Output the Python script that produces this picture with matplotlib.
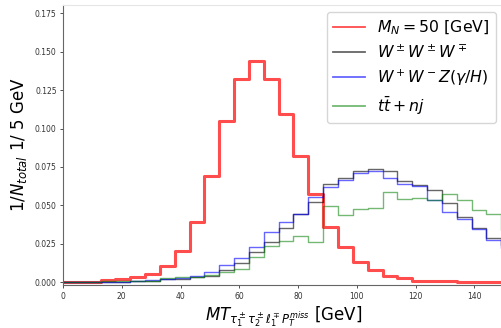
import numpy as np
import matplotlib
matplotlib.use('Agg')
import matplotlib.pyplot as plt

# bin layout (width ~5.05 GeV)
bin_start = -2.35
bin_width = 5.05
n_bins = 31
edges = bin_start + bin_width * np.arange(n_bins + 1)

# normalised bin heights, one value per bin
signal = [0.0002, 0.0002, 0.0002, 0.0013, 0.0024, 0.0035, 0.0052, 0.0108, 0.0206, 0.0390,
          0.0692, 0.1047, 0.1321, 0.1438, 0.1321, 0.1097, 0.0820, 0.0577, 0.0360, 0.0230,
          0.0132, 0.0078, 0.0041, 0.0028, 0.0011, 0.0007, 0.0007, 0.0004, 0.0004, 0.0004,
          0.0004]
www = [0.0, 0.0, 0.0, 0.0002, 0.0004, 0.0006, 0.0010, 0.0018, 0.0022, 0.0035,
       0.0041, 0.0078, 0.0125, 0.0195, 0.0263, 0.0351, 0.0442, 0.0520, 0.0642, 0.0675,
       0.0724, 0.0735, 0.0722, 0.0659, 0.0633, 0.0603, 0.0518, 0.0425, 0.0353, 0.0291,
       0.0240]
wwz = [0.0, 0.0, 0.0, 0.0002, 0.0003, 0.0005, 0.0013, 0.0020, 0.0030, 0.0039,
       0.0066, 0.0112, 0.0158, 0.0230, 0.0327, 0.0392, 0.0447, 0.0555, 0.0620, 0.0664,
       0.0714, 0.0724, 0.0675, 0.0636, 0.0625, 0.0534, 0.0457, 0.0414, 0.0345, 0.0273,
       0.0220]
ttbar = [0.0, 0.0, 0.0, 0.0008, 0.0008, 0.0008, 0.0009, 0.0028, 0.0033, 0.0035,
         0.0046, 0.0068, 0.0085, 0.0163, 0.0234, 0.0271, 0.0300, 0.0260, 0.0499, 0.0436,
         0.0475, 0.0486, 0.0584, 0.0542, 0.0547, 0.0534, 0.0577, 0.0538, 0.0468, 0.0442,
         0.0340]

labels = [r'$M_N = 50$ [GeV]', r'$W^\pm W^\pm W^\mp$', r'$W^+W^-Z(\gamma/H)$', r'$t\bar{t} + nj$']

fig = plt.figure(figsize=(5.02, 3.28), dpi=100)
ax = fig.add_axes([63 / 502, 42.7 / 328, 440.7 / 502, 280.3 / 328])


def draw(vals, **kw):
    ax.step(edges, np.append(vals, vals[-1]), where='post', **kw)


draw(signal, color='red', alpha=0.7, lw=2.2, label=labels[0])
draw(www, color='black', alpha=0.6, lw=1.0, label=labels[1])
draw(wwz, color='blue', alpha=0.6, lw=1.0, label=labels[2])
draw(ttbar, color='green', alpha=0.55, lw=1.0, label=labels[3])

ax.set_xlim(0, 150)
ax.set_ylim(-0.002, 0.1804)
ax.set_xticks([0, 20, 40, 60, 80, 100, 120, 140])
ax.set_yticks([0.0, 0.025, 0.05, 0.075, 0.1, 0.125, 0.15, 0.175])
ax.tick_params(labelsize=5.5, length=2.5, width=0.6, pad=2, colors='#333333')

for side in ['left', 'bottom']:
    ax.spines[side].set_color('#666666')
ax.spines['top'].set_color('#e6e6e6')
ax.spines['right'].set_visible(False)

ax.set_ylabel(r'$1/N_{total}$ 1/ 5 GeV', fontsize=12, labelpad=4)
ax.set_xlabel(r'$MT_{\tau_1^\pm \tau_2^\pm \ell_1^\mp P_T^{miss}}$ [GeV]', fontsize=12, labelpad=3)

leg = ax.legend(loc='upper left', bbox_to_anchor=(327 / 502, 1 - 12.3 / 328),
                bbox_transform=fig.transFigure, fontsize=11.3, borderaxespad=0,
                labelspacing=0.42)
for line in leg.get_lines():
    line.set_linewidth(1.3)

fig.savefig('out.png', dpi=100)
